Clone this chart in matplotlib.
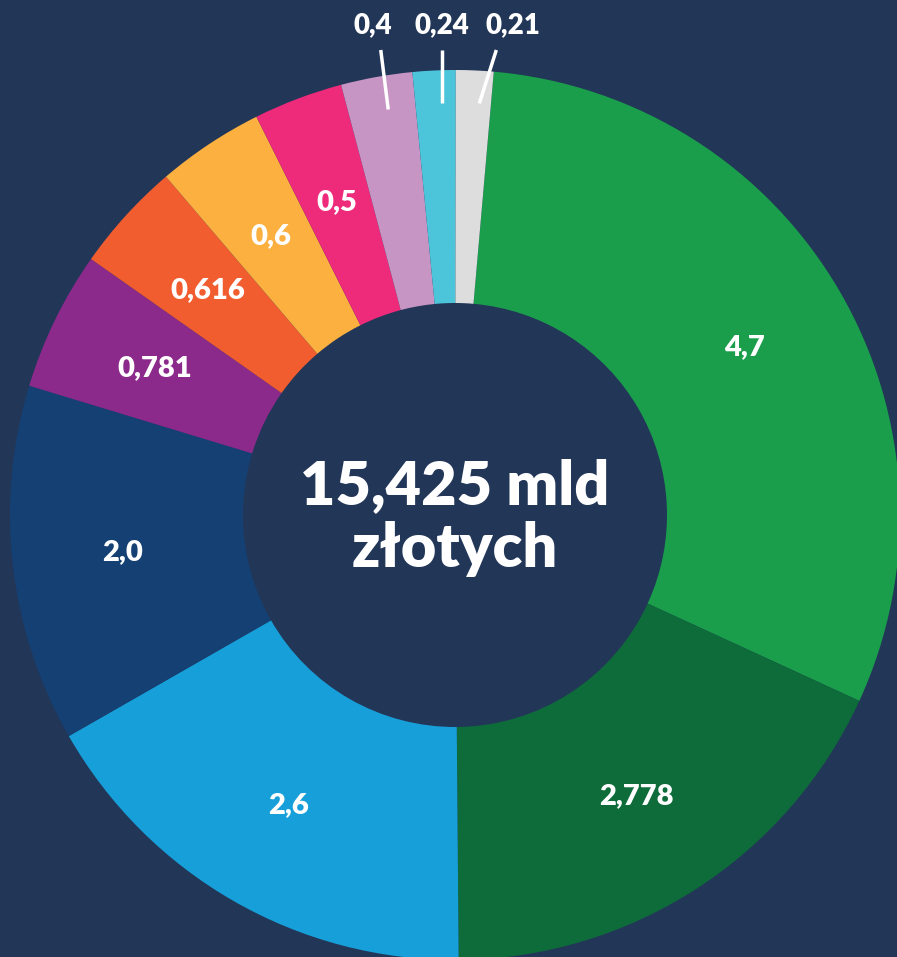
import numpy as np
import matplotlib.pyplot as plt
from matplotlib import font_manager

# wartości w mld zł, zgodnie z ruchem wskazówek zegara od góry
values = [4.7, 2.778, 2.6, 2.0, 0.781, 0.616, 0.6, 0.5, 0.4, 0.24, 0.21]
labels = ["4,7", "2,778", "2,6", "2,0", "0,781", "0,616", "0,6", "0,5", "0,4", "0,24", "0,21"]
colors = ["#1a9e4b", "#0e6b3a", "#179fd9", "#144073", "#8c2a8c", "#f15d2f",
          "#fbb040", "#ee2a7b", "#c795c3", "#4cc4d9", "#dcdddc"]
outside = [False] * 8 + [True] * 3
total_text = "15,425 mld\nzłotych"

print(sorted({(f.name, f.weight) for f in font_manager.fontManager.ttflist if "Lato" in f.name}))

bg = "#223658"
W, H = 897, 957
cx, cy = 455, H - 515
R, r_in = 445, 212
start = 85

plt.rcParams["font.family"] = ["Lato", "DejaVu Sans"]
fig = plt.figure(figsize=(W / 100, H / 100), dpi=100, facecolor=bg)
ax = fig.add_axes([0, 0, 1, 1])
ax.set_facecolor(bg)

wedges, _ = ax.pie(values, colors=colors, startangle=start, counterclock=False,
                   center=(cx, cy), radius=R,
                   wedgeprops=dict(width=R - r_in, edgecolor="none"))

# pozycje etykiet małych wycinków przesunięte w poziomie
shift = {8: -15, 9: 0, 10: 34}

total = sum(values)
cum = 0
for i, v in enumerate(values):
    mid = np.deg2rad(start - (cum + v / 2) / total * 360)
    cum += v
    if not outside[i]:
        rl = (R + r_in) / 2 + 6
        ax.text(cx + rl * np.cos(mid), cy + rl * np.sin(mid), labels[i],
                color="white", fontsize=21, fontweight="heavy",
                ha="center", va="center")
    else:
        x0, y0 = cx + 412 * np.cos(mid) + 6, cy + 412 * np.sin(mid)
        tx = x0 + shift[i]
        ax.plot([x0, x0 + shift[i] * 0.5], [y0, H - 50], color="white", lw=2.5,
                solid_capstyle="butt")
        ax.text(tx, H - 25, labels[i], color="white", fontsize=20,
                fontweight="heavy", ha="center", va="center")

ax.text(cx, cy - 3, total_text, color="white", fontsize=44, fontweight="heavy",
        ha="center", va="center", linespacing=1.15)

ax.set_xlim(0, W)
ax.set_ylim(0, H)
ax.set_aspect("equal")
ax.axis("off")

fig.savefig("out.png", dpi=100, facecolor=bg)
